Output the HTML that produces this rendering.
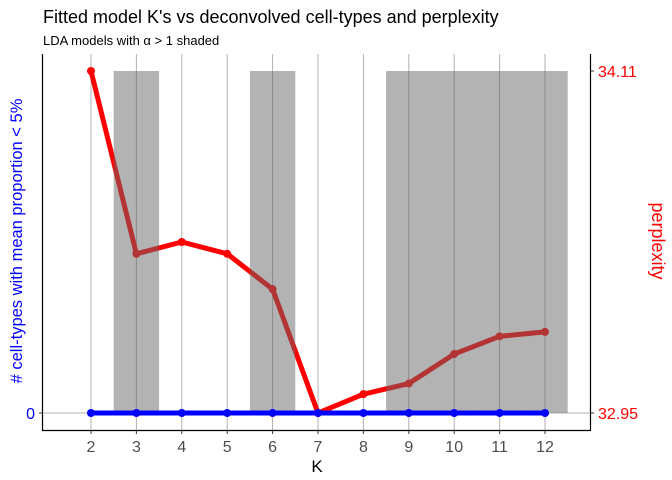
<!DOCTYPE html>
<html><head><meta charset="utf-8"><style>
body{margin:0;background:#fff;}
svg{display:block;font-family:"Liberation Sans",sans-serif;}
</style></head><body>
<svg id="chart" width="672" height="480">
<text x="43" y="23" font-size="18" fill="#000">Fitted model K's vs deconvolved cell-types and perplexity</text>
<text x="43" y="45" font-size="13" fill="#000">LDA models with α &gt; 1 shaded</text>
<g id="grid"></g>
<g id="red"></g>
<g id="bands"></g>
<g id="blue"></g>
<g id="axes"></g>
<text x="317" y="472" font-size="17" text-anchor="middle">K</text>
<text transform="translate(22,241) rotate(-90)" font-size="16.5" fill="#0000ff" text-anchor="middle"># cell-types with mean proportion &lt; 5%</text>
<text transform="translate(652,241) rotate(90)" font-size="18" fill="#ff0000" text-anchor="middle">perplexity</text>
</svg>
<script>
const ks=[2,3,4,5,6,7,8,9,10,11,12];
const perplexity=[34.11,33.49,33.53,33.49,33.37,32.95,33.014,33.05,33.15,33.21,33.225];
const cellTypes=[0,0,0,0,0,0,0,0,0,0,0];
const shadedK=[3,6,9,10,11,12];
const rightTicks=[34.11,32.95];
const leftTicks=[0];
const NS="http://www.w3.org/2000/svg";
const x=k=>91+(k-2)*45.4;
const yR=v=>413-(v-32.95)/(34.11-32.95)*342;
const yL=v=>413-v*342;
function mk(tag,attrs,parent){const e=document.createElementNS(NS,tag);for(const a in attrs)e.setAttribute(a,attrs[a]);document.getElementById(parent).appendChild(e);return e;}
ks.forEach(k=>{const g=mk('line',{x1:x(k),x2:x(k),y1:54,y2:430,stroke:'#b0b0b0','stroke-width':1},'grid');

});
const hg=mk('line',{x1:42,x2:591,y1:yL(0),y2:yL(0),stroke:'#b0b0b0','stroke-width':1},'grid');


const rp=mk('polyline',{points:ks.map((k,i)=>x(k)+','+yR(perplexity[i])).join(' '),fill:'none',stroke:'#ff0000','stroke-width':5,'stroke-linejoin':'round'},'red');


ks.forEach((k,i)=>{const c=mk('circle',{cx:x(k),cy:yR(perplexity[i]),r:4,fill:'#ff0000'},'red');

});
shadedK.forEach(k=>{const r=mk('rect',{x:x(k-0.5),y:71,width:45.4,height:342,fill:'rgba(103,103,103,0.5)'},'bands');

});
const bp=mk('polyline',{points:ks.map((k,i)=>x(k)+','+yL(cellTypes[i])).join(' '),fill:'none',stroke:'#0000ff','stroke-width':5},'blue');


ks.forEach((k,i)=>{const c=mk('circle',{cx:x(k),cy:yL(cellTypes[i]),r:4,fill:'#0000ff'},'blue');

});
const la=mk('line',{x1:42.5,x2:42.5,y1:54,y2:430,stroke:'#000','stroke-width':1.2},'axes');


const ba=mk('line',{x1:42,x2:591,y1:430.5,y2:430.5,stroke:'#000','stroke-width':1.2},'axes');


const ra=mk('line',{x1:590.5,x2:590.5,y1:54,y2:430,stroke:'#000','stroke-width':1.2},'axes');


ks.forEach(k=>{mk('line',{x1:x(k),x2:x(k),y1:431,y2:434,stroke:'#333'},'axes');
const t=mk('text',{x:x(k),y:452,'font-size':16,fill:'#4d4d4d','text-anchor':'middle'},'axes');t.textContent=k;

});
leftTicks.forEach(v=>{mk('line',{x1:39,x2:42,y1:yL(v),y2:yL(v),stroke:'#333'},'axes');
const t=mk('text',{x:35,y:yL(v)+6,'font-size':16,fill:'#0000ff','text-anchor':'end'},'axes');t.textContent=v;

});
rightTicks.forEach(v=>{mk('line',{x1:591,x2:594,y1:yR(v),y2:yR(v),stroke:'#333'},'axes');
const t=mk('text',{x:598,y:yR(v)+6,'font-size':16,fill:'#ff0000'},'axes');t.textContent=v.toFixed(2);

});
</script>
</body></html>
